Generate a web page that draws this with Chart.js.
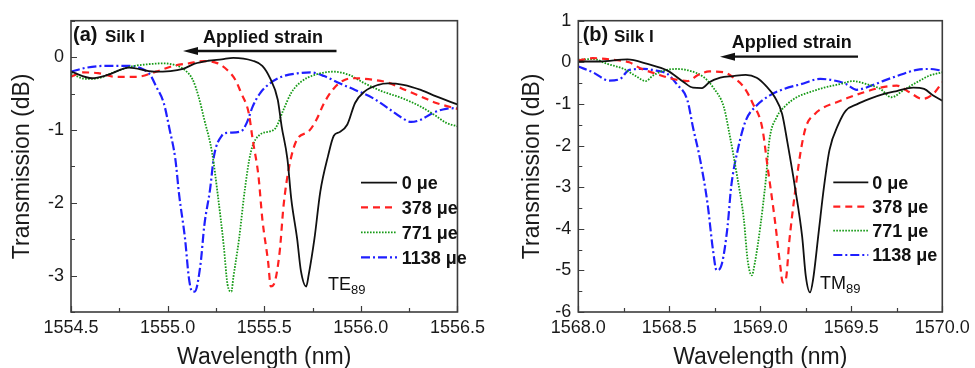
<!DOCTYPE html>
<html>
<head>
<meta charset="utf-8">
<script src="https://cdn.jsdelivr.net/npm/chart.js@4.4.1/dist/chart.umd.min.js"></script>
<style>
  html, body { margin:0; padding:0; background:#fff; width:975px; height:368px; overflow:hidden; }
  body { position:relative; font-family:'Liberation Sans', Arial, sans-serif; color:#111; }
  canvas { position:absolute; top:0; }
  .t { position:absolute; white-space:nowrap; }
  .b { font-weight:bold; }
  #ov { position:absolute; left:0; top:0; }
</style>
</head>
<body>
<canvas id="ca" width="490" height="380" style="left:0"></canvas>
<canvas id="cb" width="485" height="380" style="left:490px"></canvas>
<svg id="ov" width="975" height="368"></svg>
<div id="txt"></div>
<script>
// ---------- data: panel (a), TE89, Silk I ----------
const aWl0 = [1554.50,1554.61,1554.69,1554.80,1554.93,1555.08,1555.14,1555.21,1555.28,1555.34,1555.44,1555.49,1555.53,1555.57,1555.59,1555.62,1555.64,1555.67,1555.69,1555.717,1555.73,1555.76,1555.79,1555.83,1555.86,1555.89,1555.93,1555.97,1556.02,1556.09,1556.14,1556.22,1556.31,1556.39,1556.50];
const aT0  = [-0.20,-0.29,-0.245,-0.145,-0.20,-0.16,-0.09,-0.05,-0.03,-0.01,-0.05,-0.12,-0.29,-0.585,-0.95,-1.40,-1.95,-2.49,-2.94,-3.15,-2.99,-2.49,-1.85,-1.36,-1.08,-1.03,-0.925,-0.63,-0.47,-0.38,-0.36,-0.38,-0.45,-0.54,-0.65];
const aWl1 = [1554.50,1554.56,1554.64,1554.73,1554.84,1554.94,1555.03,1555.11,1555.19,1555.26,1555.31,1555.35,1555.38,1555.42,1555.44,1555.47,1555.49,1555.52,1555.534,1555.55,1555.58,1555.60,1555.63,1555.67,1555.73,1555.77,1555.81,1555.86,1555.91,1555.97,1556.06,1556.14,1556.22,1556.31,1556.39,1556.50];
const aT1  = [-0.27,-0.21,-0.22,-0.27,-0.27,-0.20,-0.12,-0.086,-0.054,-0.086,-0.18,-0.31,-0.49,-0.77,-1.13,-1.63,-2.22,-2.81,-3.15,-3.12,-2.67,-2.04,-1.49,-1.13,-1.02,-0.86,-0.63,-0.43,-0.32,-0.29,-0.31,-0.35,-0.44,-0.54,-0.63,-0.71];
const aWl2 = [1554.50,1554.58,1554.64,1554.73,1554.81,1554.89,1554.98,1555.04,1555.09,1555.13,1555.16,1555.19,1555.23,1555.26,1555.29,1555.31,1555.33,1555.34,1555.37,1555.40,1555.43,1555.48,1555.53,1555.56,1555.60,1555.64,1555.69,1555.76,1555.86,1555.94,1556.02,1556.11,1556.21,1556.31,1556.39,1556.44,1556.50];
const aT2  = [-0.23,-0.30,-0.29,-0.20,-0.13,-0.10,-0.086,-0.11,-0.18,-0.31,-0.54,-0.86,-1.31,-1.90,-2.58,-3.12,-3.22,-3.03,-2.49,-1.81,-1.31,-1.06,-1.02,-0.97,-0.72,-0.49,-0.34,-0.245,-0.20,-0.245,-0.36,-0.47,-0.56,-0.68,-0.81,-0.90,-0.95];
const aWl3 = [1554.50,1554.58,1554.68,1554.78,1554.86,1554.91,1554.94,1554.98,1555.01,1555.04,1555.06,1555.09,1555.11,1555.127,1555.14,1555.17,1555.19,1555.22,1555.24,1555.28,1555.31,1555.38,1555.41,1555.44,1555.48,1555.53,1555.59,1555.68,1555.74,1555.81,1555.89,1555.97,1556.06,1556.14,1556.21,1556.26,1556.31,1556.37,1556.44,1556.50];
const aT3  = [-0.20,-0.145,-0.12,-0.12,-0.15,-0.245,-0.40,-0.63,-0.99,-1.40,-1.90,-2.49,-3.03,-3.22,-3.22,-2.85,-2.31,-1.81,-1.36,-1.08,-1.04,-1.02,-0.90,-0.68,-0.49,-0.36,-0.27,-0.22,-0.21,-0.26,-0.36,-0.45,-0.56,-0.70,-0.83,-0.89,-0.86,-0.77,-0.71,-0.70];

// ---------- data: panel (b), TM89, Silk I ----------
const bWl0 = [1568.00,1568.12,1568.27,1568.38,1568.49,1568.58,1568.63,1568.68,1568.72,1568.78,1568.85,1568.92,1568.98,1569.03,1569.08,1569.12,1569.15,1569.19,1569.23,1569.25,1569.273,1569.29,1569.32,1569.35,1569.38,1569.43,1569.47,1569.53,1569.60,1569.68,1569.75,1569.84,1569.90,1569.95,1570.00];
const bT0  = [0.02,0.02,0.07,-0.04,-0.20,-0.48,-0.61,-0.62,-0.48,-0.37,-0.33,-0.30,-0.37,-0.56,-0.84,-1.24,-1.95,-2.99,-4.19,-5.14,-5.53,-5.22,-4.11,-2.99,-2.11,-1.48,-1.16,-1.01,-0.88,-0.76,-0.69,-0.61,-0.64,-0.80,-0.92];
const bWl1 = [1568.00,1568.08,1568.19,1568.28,1568.34,1568.43,1568.52,1568.60,1568.66,1568.72,1568.80,1568.85,1568.91,1568.96,1569.01,1569.04,1569.08,1569.11,1569.123,1569.14,1569.16,1569.19,1569.22,1569.25,1569.30,1569.35,1569.42,1569.49,1569.57,1569.66,1569.75,1569.82,1569.89,1569.95,1570.00];
const bT1  = [0.04,0.10,0.06,0.0,-0.14,-0.28,-0.40,-0.45,-0.30,-0.22,-0.24,-0.36,-0.60,-1.00,-1.56,-2.51,-3.79,-4.90,-5.29,-5.22,-4.27,-3.15,-2.19,-1.56,-1.24,-1.08,-0.96,-0.84,-0.72,-0.61,-0.56,-0.72,-0.88,-0.76,-0.48];
const bWl2 = [1568.00,1568.08,1568.16,1568.25,1568.32,1568.37,1568.41,1568.47,1568.54,1568.61,1568.69,1568.74,1568.80,1568.83,1568.87,1568.91,1568.93,1568.953,1568.97,1569.00,1569.03,1569.05,1569.09,1569.14,1569.20,1569.27,1569.35,1569.44,1569.51,1569.58,1569.66,1569.72,1569.79,1569.86,1569.93,1570.00];
const bT2  = [0.06,0.08,-0.04,-0.16,-0.34,-0.45,-0.32,-0.20,-0.16,-0.20,-0.36,-0.60,-1.08,-1.71,-2.67,-3.79,-4.74,-5.12,-4.82,-3.95,-2.83,-1.87,-1.32,-1.04,-0.84,-0.72,-0.61,-0.52,-0.45,-0.52,-0.64,-0.84,-0.66,-0.48,-0.32,-0.24];
const bWl3 = [1568.00,1568.08,1568.17,1568.23,1568.28,1568.36,1568.43,1568.49,1568.54,1568.60,1568.63,1568.67,1568.71,1568.74,1568.76,1568.79,1568.82,1568.84,1568.88,1568.92,1568.98,1569.05,1569.13,1569.22,1569.33,1569.42,1569.47,1569.53,1569.58,1569.68,1569.77,1569.86,1569.93,1570.00];
const bT3  = [-0.10,-0.24,-0.44,-0.40,-0.18,-0.16,-0.20,-0.28,-0.52,-0.92,-1.56,-2.35,-3.39,-4.51,-5.00,-4.82,-3.95,-2.99,-2.03,-1.40,-1.04,-0.80,-0.64,-0.53,-0.40,-0.45,-0.52,-0.66,-0.61,-0.44,-0.30,-0.18,-0.16,-0.20];

// ---------- labels & ticks ----------
const seriesLabels = ['0 \u03bce', '378 \u03bce', '771 \u03bce', '1138 \u03bce'];
const aXTicks = [1554.5, 1555.0, 1555.5, 1556.0, 1556.5];
const aYTicks = [-3, -2, -1, 0];
const bXTicks = [1568.0, 1568.5, 1569.0, 1569.5, 1570.0];
const bYTicks = [-6, -5, -4, -3, -2, -1, 0, 1];
const xTitle = 'Wavelength (nm)';
const yTitle = 'Transmission (dB)';

// ---------- styles ----------
const FONT = "'Liberation Sans', Arial, sans-serif";
Chart.defaults.font.family = FONT;
const styles = [
  { color:'#111111', width:1.8, dash:[] },
  { color:'#ff2020', width:2.2, dash:[7,5] },
  { color:'#159a15', width:1.8, dash:[1.6,1.4] },
  { color:'#1f1fff', width:2.2, dash:[9,3,2,3] }
];

function pairs(xs, ys){ return xs.map((x,i)=>({x:x, y:ys[i]})); }

const frameTicks = {
  id:'frameTicks',
  afterDatasetsDraw(chart, args, o){
    const {ctx, chartArea:a, scales:{x, y}} = chart;
    ctx.save();
    ctx.strokeStyle = '#3c3c3c';
    ctx.lineWidth = 1.2;
    ctx.beginPath();
    for (let i=0;i<o.xMajor.length;i++){
      const v = o.xMajor[i];
      const p = Math.round(x.getPixelForValue(v))+0.5;
      ctx.moveTo(p, a.bottom); ctx.lineTo(p, a.bottom-6);
      if (i < o.xMajor.length-1){
        const q = Math.round(x.getPixelForValue((v+o.xMajor[i+1])/2))+0.5;
        ctx.moveTo(q, a.bottom); ctx.lineTo(q, a.bottom-4);
      }
    }
    for (let v=o.yMin; v<=o.yMax+1e-9; v+=0.5){
      const p = Math.round(y.getPixelForValue(v))+0.5;
      const L = Math.abs(v-Math.round(v))<1e-6 ? 6 : 4;
      ctx.moveTo(a.left, p); ctx.lineTo(a.left+L, p);
    }
    ctx.stroke();
    ctx.lineWidth = 1.6;
    ctx.strokeRect(a.left, a.top, a.right-a.left, a.bottom-a.top);
    ctx.restore();
  }
};

function makeChart(id, wl, tr, xr, yr, xTicks, yTicks, geo){
  const datasets = wl.map((w,i)=>({
    label: seriesLabels[i],
    data: pairs(w, tr[i]),
    borderColor: styles[i].color,
    borderWidth: styles[i].width,
    borderDash: styles[i].dash,
    pointRadius: 0,
    fill: false,
    cubicInterpolationMode: 'monotone'
  }));
  return new Chart(document.getElementById(id), {
    type:'line',
    data:{ datasets: datasets },
    options:{
      responsive:false, animation:false, devicePixelRatio:1,
      layout:{ padding:{ left:0, right:geo.padRight, top:geo.padTop, bottom:0 } },
      plugins:{ legend:{display:false}, tooltip:{enabled:false},
        frameTicks:{ xMajor:xTicks, yMin:yr[0], yMax:yr[1] } },
      scales:{
        x:{ type:'linear', min:xr[0], max:xr[1],
          afterBuildTicks: s => { s.ticks = xTicks.map(v=>({value:v})); },
          afterFit: s => { s.height = geo.xHeight; },
          grid:{ display:false, drawTicks:false }, border:{ display:false },
          ticks:{ padding:5, color:'#1a1a1a', font:{ size:18 }, maxRotation:0, autoSkip:false,
                  callback: v => Number(v).toFixed(1) },
          title:{ display:true, text:xTitle, color:'#1a1a1a', font:{ size:23, lineHeight:1.2 }, padding:{top:0, bottom:geo.xTitlePad} }
        },
        y:{ type:'linear', min:yr[0], max:yr[1],
          afterBuildTicks: s => { s.ticks = yTicks.map(v=>({value:v})); },
          afterFit: s => { s.width = geo.yWidth; },
          grid:{ display:false, drawTicks:false }, border:{ display:false },
          ticks:{ padding:7, color:'#1a1a1a', font:{ size:18 }, callback: v => String(v) },
          title:{ display:true, text:yTitle, color:'#1a1a1a', font:{ size:23, lineHeight:1.2 }, padding:{top:geo.yTitlePad, bottom:0} }
        }
      }
    },
    plugins:[frameTicks]
  });
}

makeChart('ca', [aWl0,aWl1,aWl2,aWl3], [aT0,aT1,aT2,aT3], [1554.5,1556.5], [-3.5,0.5], aXTicks, aYTicks,
  { padRight:18, padTop:20.7, xHeight:68, yWidth:71, xTitlePad:9, yTitlePad:9 });
makeChart('cb', [bWl0,bWl1,bWl2,bWl3], [bT0,bT1,bT2,bT3], [1568,1570], [-6,1], bXTicks, bYTicks,
  { padRight:32.7, padTop:20.7, xHeight:68, yWidth:88.3, xTitlePad:9, yTitlePad:29 });

// ---------- annotations (HTML text) ----------
const txt = document.getElementById('txt');
function addText(html, left, top, size, bold){
  const d = document.createElement('div');
  d.className = 't' + (bold ? ' b' : '');
  d.style.left = left+'px'; d.style.top = top+'px';
  d.style.fontSize = size+'px'; d.style.lineHeight = size+'px';
  d.innerHTML = html;
  txt.appendChild(d);
}
addText('(a)', 73, 24, 20, true);
addText('Silk I', 105, 28.3, 17, true);
addText('Applied strain', 203, 27.8, 18, true);
addText('TE<span style="font-size:13px;position:relative;top:4px">89</span>', 328, 274.8, 18, false);
addText('(b)', 582.7, 24, 20, true);
addText('Silk I', 614, 28.3, 17, true);
addText('Applied strain', 731.7, 32.7, 18, true);
addText('TM<span style="font-size:13px;position:relative;top:4px">89</span>', 820, 273.5, 18, false);

// legends
const ov = document.getElementById('ov');
const NS = 'http://www.w3.org/2000/svg';
function legend(x0, x1, xt, rows){
  rows.forEach((ry,i)=>{
    const l = document.createElementNS(NS,'line');
    l.setAttribute('x1',x0); l.setAttribute('x2',x1); l.setAttribute('y1',ry); l.setAttribute('y2',ry);
    l.setAttribute('stroke',styles[i].color); l.setAttribute('stroke-width',styles[i].width);
    if (styles[i].dash.length) l.setAttribute('stroke-dasharray', styles[i].dash.join(' '));
    ov.appendChild(l);
    addText(seriesLabels[i], xt, ry-8.8, 18, true);
  });
}
legend(361, 397, 401.7, [182.7, 207.3, 232.3, 257.3]);
legend(833.3, 868.3, 872.3, [182.3, 206.7, 230.7, 255]);

// arrows
function arrow(xFrom, xTip, y){
  const l = document.createElementNS(NS,'line');
  l.setAttribute('x1',xFrom); l.setAttribute('x2',xTip+12); l.setAttribute('y1',y); l.setAttribute('y2',y);
  l.setAttribute('stroke','#111'); l.setAttribute('stroke-width',2.3);
  ov.appendChild(l);
  const p = document.createElementNS(NS,'polygon');
  p.setAttribute('points', `${xTip},${y} ${xTip+15},${y-4} ${xTip+15},${y+4}`);
  p.setAttribute('fill','#111');
  ov.appendChild(p);
}
arrow(336.5, 183, 51);
arrow(858, 720, 56.7);
</script>
</body>
</html>
